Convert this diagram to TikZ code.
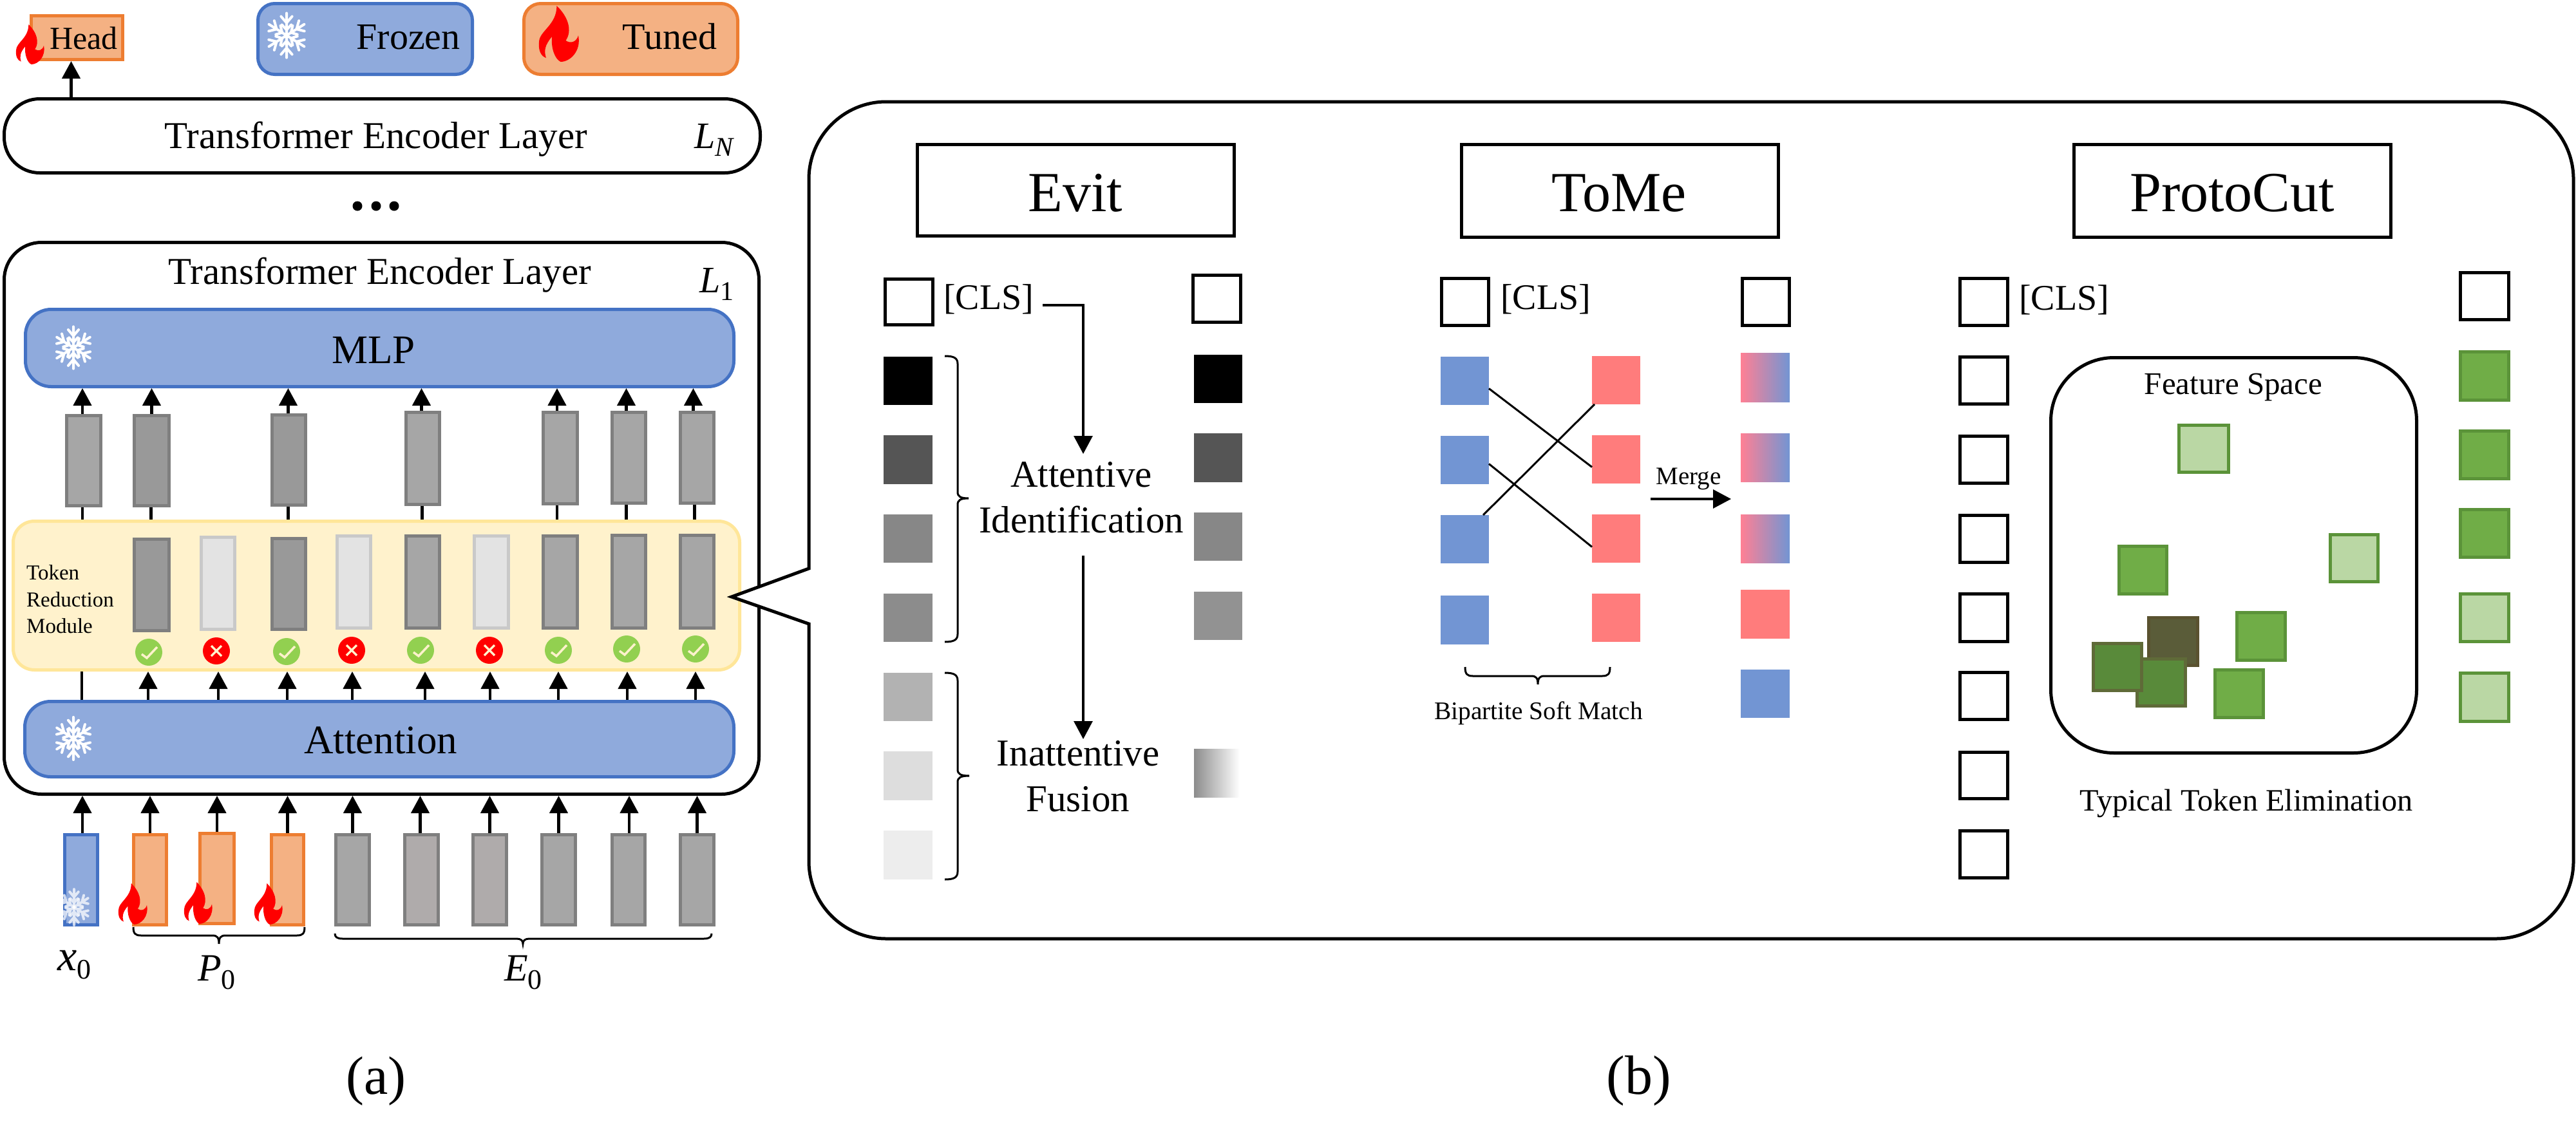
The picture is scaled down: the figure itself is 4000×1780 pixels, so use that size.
\documentclass[tikz,border=0pt]{standalone}
\usepackage{fontspec}
\setmainfont{Liberation Serif}
\usetikzlibrary{arrows.meta,calc}
\definecolor{bluefill}{HTML}{8FAADC}
\definecolor{bluestroke}{HTML}{4472C4}
\definecolor{orfill}{HTML}{F4B183}
\definecolor{orstroke}{HTML}{ED7D31}
\definecolor{yelfill}{HTML}{FFF2CC}
\definecolor{yelstroke}{HTML}{FFE699}
\definecolor{tokstroke}{HTML}{7F7F7F}
\definecolor{tokA}{HTML}{A6A6A6}
\definecolor{tokB}{HTML}{999999}
\definecolor{tokC}{HTML}{AFABAB}
\definecolor{tokD}{HTML}{E3E3E3}
\definecolor{tokDs}{HTML}{C9C9C9}
\definecolor{tomeblue}{HTML}{7295D3}
\definecolor{tomered}{HTML}{FF7C7C}
\definecolor{tomemid}{HTML}{D08FBC}
\definecolor{tomepink}{HTML}{FF8094}
\definecolor{grn}{HTML}{70AD47}
\definecolor{grnlight}{HTML}{BAD7A4}
\definecolor{grnstroke}{HTML}{5B9339}
\definecolor{okgreen}{HTML}{92D050}
\newcommand\fs[1]{\fontsize{#1pt}{#1pt}\selectfont}
\newcommand\rectS[6]{%
  \pgfmathsetmacro\myW{#5-#3-5}\pgfmathsetmacro\myH{#6-#4-5}%
  \pgfmathsetmacro\myX{(#3+#5)/2}\pgfmathsetmacro\myY{(#4+#6)/2}%
  \node[#1,minimum width=\myW pt,minimum height=\myH pt] (#2) at (\myX,\myY) {};}
\newcommand\rectF[6]{%
  \pgfmathsetmacro\myW{#5-#3}\pgfmathsetmacro\myH{#6-#4}%
  \pgfmathsetmacro\myX{(#3+#5)/2}\pgfmathsetmacro\myY{(#4+#6)/2}%
  \node[#1,minimum width=\myW pt,minimum height=\myH pt] (#2) at (\myX,\myY) {};}
\newcommand\flame[4]{%
  \begin{scope}[shift={(#1,#2)},xscale={#3/100},yscale={#4/100}]
  \fill[red] (45,0) .. controls (75,20) and (85,45) .. (68,62)
    .. controls (80,68) and (95,65) .. (100,53)
    .. controls (108,80) and (80,100) .. (55,100)
    .. controls (40,95) and (30,75) .. (33,55)
    .. controls (15,70) and (12,80) .. (18,93)
    .. controls (5,90) and (-2,80) .. (0,65)
    .. controls (0,45) and (45,35) .. (45,0) -- cycle;
  \end{scope}}
\newcommand\flake[5]{%
  \begin{scope}[shift={(#1,#2)},xscale={#3/100},yscale={#4/100},opacity=#5]
  \foreach \a in {90,150,210,270,330,30}{%
    \draw[white,line width=4pt,line cap=round,rotate=\a]
      (0,0) -- (48,0) (27,0) -- (41,13) (27,0) -- (41,-13)
      (12,0) -- (23,11) (12,0) -- (23,-11);}
  \end{scope}}
\newcommand\okmark[3]{%
  \node[circle,fill=okgreen,minimum size=42pt,inner sep=0] (#1) at (#2,#3) {};
  \draw[yelfill,line width=3.5pt] ($(#1)+(-11,3)$) -- ($(#1)+(-3,9)$) -- ($(#1)+(13,-8)$);}
\newcommand\nomark[3]{%
  \node[circle,fill=red,minimum size=42pt,inner sep=0] (#1) at (#2,#3) {};
  \draw[yelfill,line width=3.5pt] ($(#1)+(-8,-8)$) -- ($(#1)+(8,8)$) ($(#1)+(-8,8)$) -- ($(#1)+(8,-8)$);}
\newcommand\upar[3]{\draw[arr] ([xshift=#2pt]#1.north) -- ([xshift=#2pt]#1.north |- #3.south);}
% right-pointing brace: x1,y1,y2,ymid,xbar,xtip
\newcommand\vbrc[6]{\draw[brc] (#1,#2) .. controls (#5-6,#2) and (#5,#2+3) .. (#5,#2+12) -- (#5,#4-10)
  .. controls (#5,#4-3) and (#5+4,#4) .. (#6,#4) .. controls (#5+4,#4) and (#5,#4+3) .. (#5,#4+10)
  -- (#5,#3-12) .. controls (#5,#3-3) and (#5-6,#3) .. (#1,#3);}
% down-pointing brace: y1,x1,x2,xmid,ybar,ytip
\newcommand\hbrc[6]{\draw[brc] (#2,#1) .. controls (#2,#5-3) and (#2+3,#5) .. (#2+12,#5) -- (#4-10,#5)
  .. controls (#4-3,#5) and (#4,#5+3) .. (#4,#6) .. controls (#4,#5+3) and (#4+3,#5) .. (#4+10,#5)
  -- (#3-12,#5) .. controls (#3-3,#5) and (#3,#5-3) .. (#3,#1);}
\tikzset{
  x=1pt,y=-1pt,
  sbase/.style={rectangle,inner sep=0,line width=5pt,draw},
  fbase/.style={rectangle,inner sep=0,outer sep=0,draw=none},
  tokg/.style={sbase,draw=tokstroke,fill=#1},
  tokoff/.style={sbase,draw=tokDs,fill=tokD},
  frozen/.style={sbase,draw=bluestroke,fill=bluefill,rounded corners=#1},
  tuned/.style={sbase,draw=orstroke,fill=orfill,rounded corners=#1},
  layerbox/.style={sbase,draw=black,fill=white,rounded corners=#1},
  titlebox/.style={sbase,draw=black,fill=white},
  emptybox/.style={sbase,draw=black,fill=white},
  gsq/.style={sbase,draw=grnstroke,fill=#1},
  txt/.style={inner sep=0,anchor=base},
  ltxt/.style={inner sep=0,anchor=base west},
  arr/.style={line width=4.5pt,-{Triangle[width=28pt,length=27pt]}},
  arrthin/.style={line width=3.2pt,-{Triangle[width=29pt,length=28pt]}},
  ln/.style={line width=4.5pt},
  brc/.style={line width=3pt},
}
\begin{document}
\begin{tikzpicture}
\useasboundingbox (0,0) rectangle (4000,1780);
\fill[white] (0,0) rectangle (4000,1780);

% legend + head
\rectS{tuned=0pt}{head}{46}{22}{193}{95}
\node[txt,font=\fs{50}] (headt) at (130,76) {Head};
\flame{25}{38}{43}{62}
\rectS{frozen=26pt}{frz}{398}{3}{736}{118}
\node[txt,font=\fs{58}] (frzt) at (634,76) {Frozen};
\flake{445}{55}{66}{72}{1}
\rectS{tuned=26pt}{tnd}{811}{3}{1148}{118}
\node[txt,font=\fs{58}] (tndt) at (1040,76) {Tuned};
\flame{837}{9}{61}{87}

% layer N
\rectS{layerbox=55pt}{ln}{4}{151}{1183}{271}
\node[txt,font=\fs{59}] (lnt) at (584,230) {Transformer Encoder Layer};
\node[ltxt,font=\fs{58}] (lnl) at (1078,230) {\textit{L}\raisebox{-.22em}{\fs{42}\textit{N}}};
\draw[arr] ([xshift=-9pt]head.south |- ln.north) -- ([xshift=-9pt]head.south);
\foreach \n/\xx in {da/555,db/584,dc/612}{\node[circle,fill=black,minimum width=15pt,minimum height=15pt,inner sep=0] (\n) at (\xx,320) {};}

% layer 1
\rectS{layerbox=58pt}{lone}{4}{374}{1181}{1236}
\node[txt,font=\fs{59}] (lonet) at (590,441) {Transformer Encoder Layer};
\node[ltxt,font=\fs{58}] (lonel) at (1086,454) {\textit{L}\raisebox{-.22em}{\fs{42}1}};
\rectS{frozen=40pt}{mlp}{37}{478}{1142}{603}
\node[txt,font=\fs{63}] (mlpt) at (580,564) {MLP};
\flake{114}{540}{62}{68}{1}
\rectS{sbase,draw=yelstroke,fill=yelfill,rounded corners=33pt}{trm}{18}{807}{1151}{1043}
\rectS{frozen=40pt}{att}{36}{1087}{1142}{1209}
\node[txt,font=\fs{63}] (attt) at (591,1170) {Attention};
\flake{114}{1147}{62}{69}{1}
\node[ltxt,font=\fs{33}] (trm1) at (41,900) {Token};
\node[ltxt,font=\fs{33}] (trm2) at (41,942) {Reduction};
\node[ltxt,font=\fs{33}] (trm3) at (41,983) {Module};

% tokens above TRM
\rectS{tokg=tokA}{ua}{101}{643}{159}{788}
\rectS{tokg=tokB}{ub}{206}{643}{265}{788}
\rectS{tokg=tokB}{uc}{420}{642}{477}{787}
\rectS{tokg=tokA}{ud}{628}{638}{685}{786}
\rectS{tokg=tokA}{ue}{841}{638}{899}{785}
\rectS{tokg=tokA}{uf}{948}{638}{1005}{784}
\rectS{tokg=tokA}{ug}{1054}{638}{1111}{784}
\upar{ua}{-2}{mlp}\upar{ub}{0}{mlp}\upar{uc}{-1}{mlp}\upar{ud}{-2}{mlp}
\upar{ue}{-5}{mlp}\upar{uf}{-4}{mlp}\upar{ug}{-6}{mlp}
\foreach \u/\d in {ua/-2,ub/-1,uc/-1,ud/-1,ue/-5,uf/-4,ug/-4}{
  \draw[ln] ([xshift=\d pt]\u.south) -- ([xshift=\d pt]\u.south |- trm.north);}

% tokens in TRM
\rectS{tokg=tokB}{ma}{206}{835}{265}{982}
\rectS{tokoff}{mb}{310}{832}{367}{980}
\rectS{tokg=tokB}{mc}{420}{834}{477}{980}
\rectS{tokoff}{md}{521}{830}{578}{978}
\rectS{tokg=tokA}{me}{628}{830}{685}{978}
\rectS{tokoff}{mf}{734}{830}{792}{978}
\rectS{tokg=tokA}{mg}{841}{830}{899}{978}
\rectS{tokg=tokA}{mh}{948}{829}{1005}{978}
\rectS{tokg=tokA}{mi}{1054}{829}{1111}{978}
\okmark{ca}{231}{1013}
\nomark{cb}{336}{1011}
\okmark{cc}{445}{1012}
\nomark{cd}{546}{1010}
\okmark{ce}{653}{1010}
\nomark{cf}{760}{1010}
\okmark{cg}{867}{1010}
\okmark{ch}{973}{1008}
\okmark{ci}{1080}{1008}
\foreach \xx/\n in {230/a,339/b,446/c,547/d,660/e,761/f,867/g,974/h,1080/i}{
  \coordinate (ax\n) at (\xx,1000);
  \draw[arr] (ax\n |- att.north) -- (ax\n |- trm.south);}
\coordinate (axz) at (127,1000);
\draw[ln] (axz |- att.north) -- (axz |- trm.south);

% bottom tokens
\rectS{sbase,draw=bluestroke,fill=bluefill}{ix}{98}{1294}{154}{1439}
\rectS{tuned=0pt}{ip}{205}{1294}{261}{1439}
\rectS{tuned=0pt}{iq}{308}{1292}{366}{1437}
\rectS{tuned=0pt}{ir}{419}{1294}{474}{1439}
\rectS{tokg=tokA}{ia}{519}{1294}{576}{1439}
\rectS{tokg=tokC}{ib}{626}{1294}{683}{1439}
\rectS{tokg=tokC}{ic}{732}{1294}{789}{1439}
\rectS{tokg=tokA}{id}{839}{1294}{896}{1439}
\rectS{tokg=tokA}{ie}{948}{1294}{1004}{1439}
\rectS{tokg=tokA}{if}{1054}{1294}{1111}{1439}
\flake{115}{1409}{52}{58}{0.75}
\flame{184}{1372}{44}{64}
\flame{286}{1370}{43}{65}
\flame{395}{1372}{43}{64}
\foreach \t/\d in {ix/2,ip/0,iq/0,ir/0,ia/0,ib/-2,ic/0,id/0,ie/1,if/0}{
  \draw[arr] ([xshift=\d pt]\t.north) -- ([xshift=\d pt]\t.north |- lone.south);}
\hbrc{1440}{207}{473}{340}{1453}{1466}
\hbrc{1450}{520}{1105}{812}{1458}{1466}
\node[ltxt,font=\fs{68}] (xz) at (89,1507) {\textit{x}\raisebox{-.2em}{\fs{44}0}};
\node[ltxt,font=\fs{60}] (pz) at (307,1523) {\textit{P}\raisebox{-.22em}{\fs{44}0}};
\node[ltxt,font=\fs{60}] (ez) at (783,1523) {\textit{E}\raisebox{-.22em}{\fs{44}0}};
\node[txt,font=\fs{84}] (capa) at (584,1699) {(a)};
\node[txt,font=\fs{86}] (capb) at (2545,1699) {(b)};

% callout
\draw[line width=5pt,fill=white,line join=miter] (1256,883) -- (1256,278)
  .. controls (1256,212) and (1310,158) .. (1376,158) -- (3876,158)
  .. controls (3942,158) and (3996,212) .. (3996,278) -- (3996,1338)
  .. controls (3996,1404) and (3942,1458) .. (3876,1458) -- (1376,1458)
  .. controls (1310,1458) and (1256,1404) .. (1256,1338) -- (1256,969)
  -- (1136,927) -- cycle;

% Evit
\rectS{titlebox}{evit}{1422}{222}{1919}{369}
\node[txt,font=\fs{88}] (evitt) at (1670,328) {Evit};
\rectS{emptybox}{ec}{1372}{431}{1451}{507}
\node[ltxt,font=\fs{56}] (ecl) at (1465,480) {[CLS]};
\rectS{emptybox}{er}{1850}{425}{1929}{503}
\foreach \n/\a/\b/\c in {ea/554/629/000000,eb/676/752/555555,ed/799/874/878787,ee/922/997/8C8C8C,ef/1045/1120/B2B2B2,eg/1167/1243/DDDDDD,eh/1290/1366/EDEDED}{
  \definecolor{tmpc}{HTML}{\c}
  \rectF{fbase,fill=tmpc}{\n}{1372}{\a}{1448}{\b}}
\foreach \n/\a/\b/\c in {ra/551/626/000000,rb/673/749/555555,rd/796/871/878787,re/919/994/929292}{
  \definecolor{tmpc}{HTML}{\c}
  \rectF{fbase,fill=tmpc}{\n}{1854}{\a}{1929}{\b}}
\rectF{fbase,left color=black!45,right color=white}{rg}{1854}{1163}{1925}{1238}
\vbrc{1467}{553}{997}{774}{1487}{1504}
\vbrc{1467}{1045}{1366}{1205}{1487}{1505}
\node[txt,font=\fs{59}] (at1) at (1679,756) {Attentive};
\node[txt,font=\fs{59}] (at2) at (1679,827) {Identification};
\node[txt,font=\fs{59}] (in1) at (1674,1189) {Inattentive};
\node[txt,font=\fs{59}] (in2) at (1674,1260) {Fusion};
\coordinate (ev0) at (1619,474);
\coordinate (ev1) at (1682,705);
\coordinate (ev2) at (1682,863);
\coordinate (ev3) at (1682,1148);
\draw[arrthin] (ev0) -| (ev1);
\draw[arrthin] (ev2) -- (ev3);

% ToMe
\rectS{titlebox}{tome}{2267}{222}{2764}{371}
\node[txt,font=\fs{88}] (tomet) at (2514,328) {ToMe};
\rectS{emptybox}{tc}{2236}{430}{2314}{508}
\node[ltxt,font=\fs{56}] (tcl) at (2330,480) {[CLS]};
\rectS{emptybox}{tr}{2703}{430}{2781}{508}
\rectF{fbase,fill=tomeblue}{ba}{2237}{554}{2312}{629}
\rectF{fbase,fill=tomeblue}{bb}{2237}{677}{2312}{752}
\rectF{fbase,fill=tomeblue}{bc}{2237}{800}{2312}{875}
\rectF{fbase,fill=tomeblue}{bd}{2237}{925}{2312}{1001}
\rectF{fbase,fill=tomered}{pa}{2472}{553}{2547}{628}
\rectF{fbase,fill=tomered}{pb}{2472}{676}{2547}{751}
\rectF{fbase,fill=tomered}{pc}{2472}{799}{2547}{874}
\rectF{fbase,fill=tomered}{pd}{2472}{922}{2547}{997}
\tikzset{mix/.style={fbase,left color=tomepink,middle color=tomemid,right color=tomeblue}}
\rectF{mix}{ma1}{2703}{548}{2779}{624}
\rectF{mix}{ma2}{2703}{673}{2779}{748}
\rectF{mix}{ma3}{2703}{799}{2779}{874}
\rectF{fbase,fill=tomered}{ma4}{2703}{916}{2779}{992}
\rectF{fbase,fill=tomeblue}{ma5}{2703}{1040}{2779}{1115}
\draw[line width=3pt] ([yshift=-12pt]ba.east) -- ([yshift=-12pt]pb.west);
\draw[line width=3pt] ([yshift=-6pt]bb.east) -- ([yshift=-13pt]pc.west);
\draw[line width=3pt] ($(bc.north east)+(-9,0)$) -- ($(pa.south west)+(4,0)$);
\coordinate (mg0) at (2563,775);
\coordinate (mg1) at (2688,775);
\draw[arrthin] (mg0) -- (mg1);
\node[txt,font=\fs{39}] (mgt) at (2622,752) {Merge};
\hbrc{1036}{2275}{2500}{2388}{1050}{1063}
\node[txt,font=\fs{39.4}] (bsm) at (2389,1117) {Bipartite Soft Match};

% ProtoCut
\rectS{titlebox}{pcut}{3218}{222}{3715}{371}
\node[txt,font=\fs{88}] (pcutt) at (3466,328) {ProtoCut};
\foreach \n/\a/\b in {la/430/508,lb/552/630,lc/675/753,ld/798/876,le/920/999,lf/1042/1120,lg/1166/1243,lh/1288/1366}{
  \rectS{emptybox}{\n}{3041}{\a}{3120}{\b}}
\node[ltxt,font=\fs{56}] (pcl) at (3135,481) {[CLS]};
\rectS{emptybox}{ka}{3818}{421}{3898}{499}
\rectS{gsq=grn}{kb}{3818}{544}{3898}{624}
\rectS{gsq=grn}{kc}{3818}{667}{3898}{746}
\rectS{gsq=grn}{kd}{3818}{789}{3898}{868}
\rectS{gsq=grnlight}{ke}{3818}{920}{3898}{999}
\rectS{gsq=grnlight}{kf}{3818}{1043}{3898}{1123}
\rectS{layerbox=98pt}{fs}{3182}{553}{3755}{1172}
\node[txt,font=\fs{49}] (fst) at (3468,612) {Feature Space};
\rectS{gsq=grnlight}{sa}{3381}{658}{3463}{736}
\rectS{gsq=grn}{sb}{3288}{846}{3367}{925}
\rectS{gsq=grnlight}{sc}{3616}{828}{3695}{906}
\rectS{gsq=grn}{sd}{3471}{949}{3551}{1028}
\rectS{gsq=grn}{se}{3437}{1038}{3517}{1117}
\definecolor{dkbrown}{HTML}{5A5C39}
\definecolor{dkbrowns}{HTML}{5A5230}
\definecolor{dkgreen}{HTML}{598A3A}
\definecolor{dkgreens}{HTML}{5F6A38}
\rectS{sbase,draw=dkbrowns,fill=dkbrown}{sf}{3334}{957}{3415}{1036}
\rectS{sbase,draw=dkgreens,fill=dkgreen}{sg}{3316}{1021}{3396}{1099}
\rectS{sbase,draw=dkgreens,fill=dkgreen}{sh}{3248}{997}{3328}{1075}
\node[txt,font=\fs{48.3}] (tte) at (3488,1259) {Typical Token Elimination};
\end{tikzpicture}
\end{document}
